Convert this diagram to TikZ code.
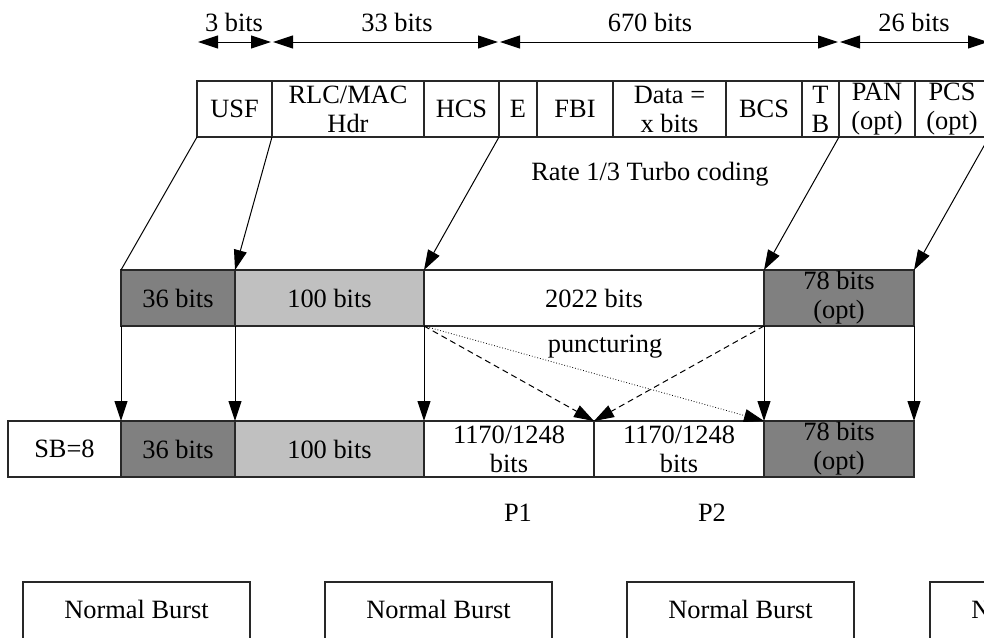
\documentclass[tikz,border=0pt]{standalone}
\usepackage{fontspec}
\setmainfont{Liberation Serif}
\usetikzlibrary{arrows.meta,positioning}
\definecolor{burstDark}{RGB}{128,128,128}
\definecolor{burstLight}{RGB}{192,192,192}
\definecolor{burstLine}{RGB}{40,40,40}

\begin{document}
\begin{tikzpicture}[
    x=0.5pt, y=-0.5pt,
    node distance=0pt,
    fld/.style={draw=burstLine, line width=0.6pt, fill=white, align=center, inner sep=0pt, outer sep=0pt, minimum height=28pt, font=\fontsize{13.2}{14.5}\selectfont},
    fdark/.style={fld, fill=burstDark},
    flight/.style={fld, fill=burstLight},
    lbl/.style={inner sep=0pt, anchor=base, font=\fontsize{13.2}{14.5}\selectfont},
    arrow/.style={-{Triangle[length=10pt,width=6.5pt]}, line width=0.5pt, black},
    dimarrow/.style={{Triangle[length=10pt,width=6.5pt]}-{Triangle[length=10pt,width=6.5pt]}, line width=0.5pt, shorten <=0.5pt, shorten >=0.5pt}
  ]
    \useasboundingbox (0,0) rectangle (984,637);
    \clip (0,0) rectangle (984,637);

    % header fields
    \node[fld, minimum width=37.5pt, anchor=north west] (usf) at (197,81) {USF};
    \node[fld, minimum width=76pt, right=of usf] (rlc) {RLC/MAC\\Hdr};
    \node[fld, minimum width=37.5pt, right=of rlc] (hcs) {HCS};
    \node[fld, minimum width=19pt, right=of hcs] (e) {E};
    \node[fld, minimum width=38pt, right=of e] (fbi) {FBI};
    \node[fld, minimum width=56.5pt, right=of fbi] (data) {Data =\\x bits};
    \node[fld, minimum width=38pt, right=of data] (bcs) {BCS};
    \node[fld, minimum width=18.5pt, right=of bcs] (tb) {T\\B};
    \node[fld, minimum width=38pt, right=of tb] (pan) {PAN\\(opt)};
    \node[fld, minimum width=37pt, right=of pan] (pcs) {PCS\\(opt)};

    % sizes
    \coordinate (dimy) at (0,42);
    \draw[dimarrow] (usf.north west |- dimy) -- (usf.north east |- dimy);
    \draw[dimarrow] (rlc.north west |- dimy) -- (hcs.north east |- dimy);
    \draw[dimarrow] (e.north west |- dimy) -- (tb.north east |- dimy);
    \draw[dimarrow] (pan.north west |- dimy) -- (pcs.north east |- dimy);
    \node[lbl] (n3) at (234,31.5) {3 bits};
    \node[lbl] (n33) at (397,31.5) {33 bits};
    \node[lbl] (n670) at (650,31.5) {670 bits};
    \node[lbl] (n26) at (914,31.5) {26 bits};

    \node[lbl] (turbo) at (650,180) {Rate 1/3 Turbo coding};

    % coded block
    \node[fdark, minimum width=57pt, anchor=north west] (m36) at (121,270) {36 bits};
    \node[flight, minimum width=94.5pt, right=of m36] (m100) {100 bits};
    \node[fld, minimum width=170pt, right=of m100] (m2022) {2022 bits};
    \node[fdark, minimum width=75pt, right=of m2022] (m78) {78 bits\\(opt)};

    % punctured block
    \node[fld, minimum width=56.5pt, anchor=north west] (sb) at (8,421) {SB=8};
    \node[fdark, minimum width=57pt, right=of sb] (b36) {36 bits};
    \node[flight, minimum width=94.5pt, right=of b36] (b100) {100 bits};
    \node[fld, minimum width=85pt, right=of b100] (p1) {1170/1248\\bits};
    \node[fld, minimum width=85pt, right=of p1] (p2) {1170/1248\\bits};
    \node[fdark, minimum width=75pt, right=of p2] (b78) {78 bits\\(opt)};

    \node[lbl] (punct) at (605,352) {puncturing};
    \node[lbl] (np1) at (518,521) {P1};
    \node[lbl] (np2) at (712,521) {P2};

    % bursts
    \foreach \bx/\bn in {23/nb1, 325/nb2, 627/nb3, 930/nb4}
      \node[draw=burstLine, line width=0.6pt, inner sep=0pt, outer sep=0pt, minimum width=113.5pt, text height=18pt, text depth=12pt, anchor=north west, font=\fontsize{13.2}{14.5}\selectfont] (\bn) at (\bx,582) {Normal Burst};

    % coding
    \draw[line width=0.5pt] (usf.south west) -- (m36.north west);
    \draw[arrow] (rlc.south west) -- (m100.north west);
    \draw[arrow] (hcs.south east) -- (m2022.north west);
    \draw[arrow] (tb.south east) -- (m78.north west);
    \draw[arrow] (pcs.south east) -- (m78.north east);

    \draw[arrow] (m36.south west) -- (b36.north west);
    \draw[arrow] (m100.south west) -- (b100.north west);
    \draw[arrow] (m2022.south west) -- (p1.north west);
    \draw[arrow] (m78.south west) -- (b78.north west);
    \draw[arrow] (m78.south east) -- (b78.north east);

    \draw[arrow, dash pattern=on 3pt off 2pt] (m2022.south west) -- (p1.north east);
    \draw[arrow, dash pattern=on 3pt off 2pt] (m2022.south east) -- (p2.north west);
    \draw[arrow, line width=0.4pt, densely dotted] (m2022.south west) -- (b78.north west);
  \end{tikzpicture}
\end{document}
